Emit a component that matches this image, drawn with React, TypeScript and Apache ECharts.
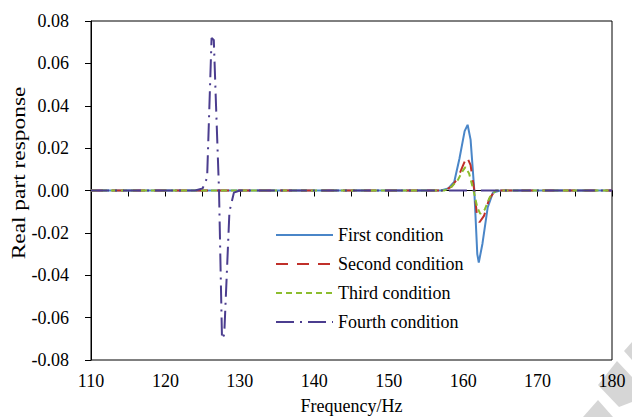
import React, { useEffect, useRef } from "react";
import * as echarts from "echarts";

const seriesNames = ["First condition", "Second condition", "Third condition", "Fourth condition"];
const yAxisTitle = "Real part response";
const xAxisTitle = "Frequency/Hz";

const firstCondition: [number, number][] = [
  [110, 0], [157, 0], [158, 0.001], [158.8, 0.004], [159.5, 0.015], [160.2, 0.028], [160.6, 0.031],
  [161.0, 0.024], [161.5, 0], [161.9, -0.03], [162.1, -0.034], [162.6, -0.025], [163.3, -0.008],
  [164, -0.001], [165, 0], [180, 0],
];
const secondCondition: [number, number][] = [
  [110, 0], [157.5, 0], [158.5, 0.002], [159.3, 0.006], [160.0, 0.012], [160.5, 0.016],
  [161.0, 0.012], [161.5, 0], [161.9, -0.013], [162.2, -0.015], [162.8, -0.012], [163.5, -0.004],
  [164.3, 0], [180, 0],
];
const thirdCondition: [number, number][] = [
  [110, 0], [157.5, 0], [158.5, 0.002], [159.3, 0.005], [159.9, 0.009], [160.3, 0.011],
  [160.8, 0.008], [161.4, 0], [161.9, -0.008], [162.3, -0.011], [162.9, -0.009], [163.6, -0.003],
  [164.4, 0], [180, 0],
];
const fourthCondition: [number, number][] = [
  [110, 0], [124, 0], [125, 0.001], [125.6, 0.006], [126.2, 0.072], [126.5, 0.071], [126.8, 0.04],
  [127.2, 0], [127.6, -0.07], [127.9, -0.068], [128.6, -0.01], [129.2, -0.001], [130, 0], [180, 0],
];

const FONT = "'Times New Roman', 'Liberation Serif', serif";

export default function App() {
  const ref = useRef<HTMLDivElement>(null);
  useEffect(() => {
    if (!ref.current) return;
    const chart = echarts.init(ref.current, undefined, { renderer: "svg" });
    const mk = (name: string, data: [number, number][], color: string, type: any, width: number) => ({
      name,
      type: "line",
      data,
      symbol: "none",
      lineStyle: { color, type, width },
      itemStyle: { color },
    });
    const wm = "#d6d6d6";
    chart.setOption({
      animation: false,
      backgroundColor: "#ffffff",
      grid: {
        left: 91, right: 20, top: 21, bottom: 57,
        show: true, borderColor: "#000", borderWidth: 1, backgroundColor: "transparent",
        containLabel: false, outerBoundsMode: "none",
      },
      graphic: [
        { type: "polygon", z: -10, shape: { points: [[583, 417], [598, 400], [613, 417]] }, style: { fill: wm } },
        { type: "polygon", z: -10, shape: { points: [[598, 385], [617, 361], [632, 377], [632, 402], [619, 407]] }, style: { fill: wm } },
        { type: "polygon", z: -10, shape: { points: [[624, 351], [632, 342], [632, 360]] }, style: { fill: wm } },
        {
          type: "text",
          x: 19,
          y: 173,
          rotation: Math.PI / 2,
          scaleX: 1.3,
          style: {
            text: yAxisTitle,
            font: `18px ${FONT}`,
            fill: "#000",
            align: "center",
            verticalAlign: "middle",
          },
        },
      ],
      legend: {
        orient: "vertical",
        left: 270,
        top: 221,
        itemWidth: 57,
        itemHeight: 14,
        itemGap: 11,
        itemStyle: { opacity: 0 },
        textStyle: { fontFamily: FONT, fontSize: 18, color: "#000" },
        data: seriesNames,
      },
      xAxis: {
        type: "value",
        min: 110,
        max: 180,
        interval: 10,
        name: xAxisTitle,
        nameLocation: "middle",
        nameGap: 37,
        nameTextStyle: { fontFamily: FONT, fontSize: 18, color: "#000" },
        axisLine: { lineStyle: { color: "#000" } },
        axisTick: { inside: false, length: 6, lineStyle: { color: "#000" } },
        minorTick: { show: true, splitNumber: 2, length: 6, lineStyle: { color: "#000" } },
        axisLabel: { fontFamily: FONT, fontSize: 18, color: "#000", margin: 12 },
        splitLine: { show: false },
      },
      yAxis: {
        type: "value",
        min: -0.08,
        max: 0.08,
        interval: 0.02,
        axisLine: { lineStyle: { color: "#000" } },
        axisTick: { inside: false, length: 6, lineStyle: { color: "#000" } },
        axisLabel: {
          fontFamily: FONT,
          fontSize: 18,
          color: "#000",
          margin: 22,
          formatter: (v: number) => v.toFixed(2),
        },
        splitLine: { show: false },
      },
      series: [
        mk(seriesNames[0], firstCondition, "#4a86c8", "solid", 2),
        mk(seriesNames[1], secondCondition, "#c0302a", [12, 9], 2),
        mk(seriesNames[2], thirdCondition, "#8cbd2e", [6, 4], 2),
        mk(seriesNames[3], fourthCondition, "#4b3d8f", [18, 6, 2, 6], 2),
      ],
    });
    return () => chart.dispose();
  }, []);
  return <div ref={ref} style={{ width: 632, height: 417, position: "absolute", left: 0, top: 0 }} />;
}
